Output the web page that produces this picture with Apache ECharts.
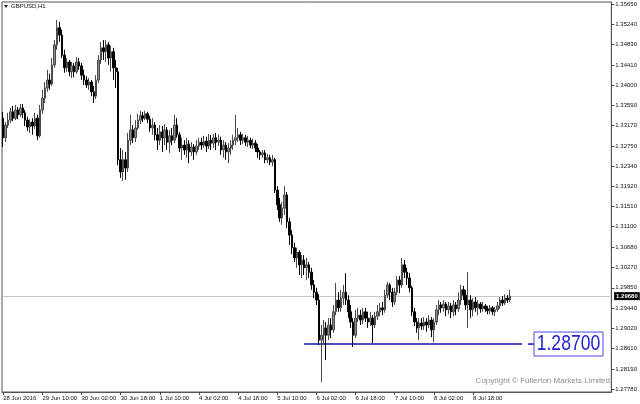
<!DOCTYPE html>
<html><head><meta charset="utf-8">
<script src="https://cdn.jsdelivr.net/npm/echarts@6/dist/echarts.min.js"></script>
<style>html,body{margin:0;padding:0;background:#fff}#c{width:640px;height:404px}</style>
</head><body><div id="c"></div>
<script>
const symbolTitle = 'GBPUSD,H1';
const copyrightText = 'Copyright \u00A9 Fullerton Markets Limited';
// hourly bars: [open, close, low, high]
const ohlc = [
[1.3332,1.3292,1.3273,1.3345],[1.3292,1.3318,1.3283,1.3324],[1.3318,1.3328,1.3312,1.3343],[1.3328,1.3345,1.3322,1.3353],
[1.3345,1.3332,1.3326,1.3357],[1.3332,1.3349,1.3328,1.3359],[1.3349,1.3339,1.3330,1.3355],[1.3339,1.3353,1.3335,1.3361],
[1.3353,1.3343,1.3332,1.3361],[1.3343,1.3328,1.3316,1.3349],[1.3328,1.3314,1.3306,1.3335],[1.3314,1.3324,1.3302,1.3330],
[1.3324,1.3316,1.3298,1.3332],[1.3316,1.3332,1.3310,1.3343],[1.3332,1.3296,1.3287,1.3339],[1.3296,1.3349,1.3292,1.3359],
[1.3349,1.3373,1.3341,1.3390],[1.3373,1.3394,1.3363,1.3406],[1.3394,1.3410,1.3386,1.3431],[1.3410,1.3402,1.3390,1.3423],
[1.3402,1.3441,1.3398,1.3455],[1.3441,1.3482,1.3435,1.3492],[1.3482,1.3517,1.3472,1.3533],[1.3517,1.3502,1.3488,1.3529],
[1.3502,1.3461,1.3455,1.3513],[1.3461,1.3435,1.3425,1.3472],[1.3435,1.3447,1.3427,1.3455],[1.3447,1.3427,1.3418,1.3451],
[1.3427,1.3439,1.3414,1.3447],[1.3439,1.3427,1.3416,1.3445],[1.3427,1.3447,1.3423,1.3457],[1.3447,1.3439,1.3431,1.3455],
[1.3439,1.3420,1.3410,1.3445],[1.3420,1.3410,1.3400,1.3431],[1.3410,1.3400,1.3394,1.3418],[1.3400,1.3406,1.3390,1.3414],
[1.3406,1.3386,1.3377,1.3410],[1.3386,1.3377,1.3363,1.3398],[1.3377,1.3410,1.3371,1.3420],[1.3410,1.3451,1.3404,1.3461],
[1.3451,1.3476,1.3443,1.3488],[1.3476,1.3468,1.3451,1.3492],[1.3468,1.3482,1.3447,1.3492],[1.3482,1.3455,1.3441,1.3488],
[1.3455,1.3468,1.3427,1.3480],[1.3468,1.3435,1.3410,1.3476],[1.3435,1.3427,1.3394,1.3451],[1.3427,1.3247,1.3236,1.3435],
[1.3247,1.3222,1.3210,1.3271],[1.3222,1.3247,1.3204,1.3267],[1.3247,1.3230,1.3206,1.3263],[1.3230,1.3287,1.3222,1.3302],
[1.3287,1.3308,1.3277,1.3339],[1.3308,1.3292,1.3281,1.3318],[1.3292,1.3312,1.3283,1.3328],[1.3312,1.3328,1.3308,1.3341],
[1.3328,1.3337,1.3320,1.3347],[1.3337,1.3332,1.3324,1.3345],[1.3332,1.3341,1.3328,1.3347],[1.3341,1.3330,1.3322,1.3345],
[1.3330,1.3312,1.3304,1.3337],[1.3312,1.3318,1.3298,1.3332],[1.3318,1.3298,1.3287,1.3324],[1.3298,1.3287,1.3267,1.3312],
[1.3287,1.3304,1.3277,1.3318],[1.3304,1.3292,1.3263,1.3316],[1.3292,1.3308,1.3277,1.3320],[1.3308,1.3283,1.3267,1.3314],
[1.3283,1.3296,1.3261,1.3308],[1.3296,1.3287,1.3277,1.3312],[1.3287,1.3318,1.3281,1.3339],[1.3318,1.3298,1.3292,1.3332],
[1.3298,1.3271,1.3263,1.3304],[1.3271,1.3277,1.3247,1.3292],[1.3277,1.3267,1.3257,1.3287],[1.3267,1.3279,1.3251,1.3292],
[1.3279,1.3263,1.3240,1.3287],[1.3263,1.3273,1.3255,1.3283],[1.3273,1.3263,1.3247,1.3279],[1.3263,1.3275,1.3257,1.3287],
[1.3275,1.3283,1.3267,1.3292],[1.3283,1.3277,1.3267,1.3292],[1.3277,1.3285,1.3271,1.3296],[1.3285,1.3275,1.3263,1.3294],
[1.3275,1.3287,1.3269,1.3300],[1.3287,1.3281,1.3267,1.3298],[1.3281,1.3292,1.3271,1.3300],[1.3292,1.3283,1.3267,1.3302],
[1.3283,1.3287,1.3275,1.3298],[1.3287,1.3267,1.3257,1.3294],[1.3267,1.3277,1.3251,1.3287],[1.3277,1.3263,1.3247,1.3283],
[1.3263,1.3271,1.3240,1.3281],[1.3271,1.3277,1.3257,1.3287],[1.3277,1.3287,1.3267,1.3298],[1.3287,1.3292,1.3277,1.3339],
[1.3292,1.3298,1.3283,1.3312],[1.3298,1.3287,1.3277,1.3304],[1.3287,1.3292,1.3279,1.3300],[1.3292,1.3283,1.3275,1.3298],
[1.3283,1.3287,1.3273,1.3296],[1.3287,1.3277,1.3271,1.3292],[1.3277,1.3281,1.3269,1.3290],[1.3281,1.3271,1.3263,1.3287],
[1.3271,1.3263,1.3251,1.3279],[1.3263,1.3257,1.3247,1.3267],[1.3257,1.3261,1.3251,1.3267],[1.3261,1.3247,1.3240,1.3267],
[1.3247,1.3251,1.3240,1.3259],[1.3251,1.3242,1.3236,1.3257],[1.3242,1.3247,1.3234,1.3257],[1.3247,1.3185,1.3179,1.3251],
[1.3185,1.3155,1.3144,1.3193],[1.3155,1.3128,1.3120,1.3169],[1.3128,1.3148,1.3114,1.3161],[1.3148,1.3175,1.3134,1.3193],
[1.3175,1.3120,1.3107,1.3181],[1.3120,1.3093,1.3073,1.3128],[1.3093,1.3067,1.3054,1.3103],[1.3067,1.3046,1.3038,1.3077],
[1.3046,1.3058,1.3026,1.3067],[1.3058,1.3032,1.3011,1.3062],[1.3032,1.3042,1.3005,1.3052],[1.3042,1.3026,1.3011,1.3052],
[1.3026,1.3032,1.3001,1.3046],[1.3032,1.3017,1.3005,1.3038],[1.3017,1.2991,1.2981,1.3026],[1.2991,1.2976,1.2964,1.3001],
[1.2976,1.2960,1.2950,1.2985],[1.2960,1.2878,1.2868,1.2972],[1.2878,1.2888,1.2792,1.2909],[1.2888,1.2903,1.2868,1.2919],
[1.2903,1.2888,1.2837,1.2915],[1.2888,1.2909,1.2878,1.2923],[1.2909,1.2899,1.2882,1.2923],[1.2899,1.2936,1.2893,1.2950],
[1.2936,1.2960,1.2929,1.2995],[1.2960,1.2944,1.2936,1.2976],[1.2944,1.2964,1.2936,1.2981],[1.2964,1.2976,1.2950,1.2991],
[1.2976,1.2960,1.2950,1.3015],[1.2960,1.2936,1.2923,1.2970],[1.2936,1.2915,1.2903,1.2950],[1.2915,1.2888,1.2864,1.2923],
[1.2888,1.2923,1.2882,1.2940],[1.2923,1.2929,1.2915,1.2944],[1.2929,1.2919,1.2909,1.2940],[1.2919,1.2936,1.2911,1.2944],
[1.2936,1.2923,1.2915,1.2944],[1.2923,1.2915,1.2903,1.2936],[1.2915,1.2923,1.2907,1.2936],[1.2923,1.2909,1.2872,1.2929],
[1.2909,1.2927,1.2903,1.2936],[1.2927,1.2936,1.2919,1.2950],[1.2936,1.2944,1.2927,1.2954],[1.2944,1.2940,1.2929,1.2956],
[1.2940,1.2970,1.2934,1.2981],[1.2970,1.2991,1.2964,1.2997],[1.2991,1.2976,1.2960,1.2995],[1.2976,1.2956,1.2946,1.2985],
[1.2956,1.2976,1.2950,1.2985],[1.2976,1.3001,1.2970,1.3009],[1.3001,1.2991,1.2974,1.3009],[1.2991,1.3032,1.2985,1.3046],
[1.3032,1.3017,1.3005,1.3042],[1.3017,1.3005,1.2991,1.3026],[1.3005,1.2985,1.2976,1.3015],[1.2985,1.2936,1.2927,1.2989],
[1.2936,1.2915,1.2907,1.2944],[1.2915,1.2903,1.2893,1.2923],[1.2903,1.2913,1.2878,1.2923],[1.2913,1.2907,1.2899,1.2923],
[1.2907,1.2915,1.2899,1.2925],[1.2915,1.2909,1.2895,1.2923],[1.2909,1.2919,1.2903,1.2929],[1.2919,1.2899,1.2884,1.2925],
[1.2899,1.2915,1.2874,1.2923],[1.2915,1.2940,1.2909,1.2950],[1.2940,1.2950,1.2929,1.2960],[1.2950,1.2944,1.2934,1.2956],
[1.2944,1.2952,1.2936,1.2960],[1.2952,1.2940,1.2927,1.2956],[1.2940,1.2948,1.2931,1.2956],[1.2948,1.2936,1.2923,1.2954],
[1.2936,1.2950,1.2927,1.2960],[1.2950,1.2942,1.2929,1.2956],[1.2942,1.2960,1.2936,1.2976],[1.2960,1.2981,1.2950,1.2991],
[1.2981,1.2970,1.2960,1.2989],[1.2970,1.2950,1.2940,1.2981],[1.2950,1.2960,1.2903,1.3017],[1.2960,1.2940,1.2923,1.2970],
[1.2940,1.2956,1.2927,1.2964],[1.2956,1.2944,1.2936,1.2966],[1.2944,1.2952,1.2929,1.2960],[1.2952,1.2942,1.2934,1.2956],
[1.2942,1.2948,1.2936,1.2956],[1.2948,1.2942,1.2936,1.2952],[1.2942,1.2938,1.2931,1.2948],[1.2938,1.2944,1.2931,1.2950],
[1.2944,1.2936,1.2929,1.2948],[1.2936,1.2940,1.2927,1.2946],[1.2940,1.2948,1.2936,1.2956],[1.2948,1.2960,1.2942,1.2966],
[1.2960,1.2954,1.2948,1.2968],[1.2954,1.2964,1.2950,1.2972],[1.2964,1.2960,1.2954,1.2970],[1.2960,1.2968,1.2956,1.2981]
];
const yTickLabels = ['1.35650','1.35240','1.34830','1.34410','1.34000','1.33590','1.33170','1.32750','1.32340','1.31920',
  '1.31510','1.31100','1.30680','1.30270','1.29850','1.29440','1.29020','1.28610','1.28190','1.27780'];
const xTickLabels = ['28 Jun 2016','29 Jun 10:00','30 Jun 02:00','30 Jun 18:00','1 Jul 10:00','4 Jul 02:00','4 Jul 18:00',
  '5 Jul 10:00','6 Jul 02:00','6 Jul 18:00','7 Jul 10:00','8 Jul 02:00','8 Jul 18:00'];
const currentPrice = 1.29680;
const levelPrice = 1.28700;
const levelLabel = '1.28700';
const levelStartBar = 123;
const levelEndBar = 212;
const yMin = 1.27719, yMax = 1.35697;
const totalSlots = 249;
const labelEvery = 16;

const months = ['Jan','Feb','Mar','Apr','May','Jun','Jul','Aug','Sep','Oct','Nov','Dec'];
const categories = [];
let t = Date.UTC(2016, 5, 28, 18);
while (categories.length < totalSlots) {
  const d = new Date(t), wd = d.getUTCDay();
  if (wd !== 0 && wd !== 6) categories.push(d.getUTCDate() + ' ' + months[d.getUTCMonth()] + ' ' + String(d.getUTCHours()).padStart(2, '0') + ':00');
  t += 3600000;
}
const yTickValues = yTickLabels.map(Number);
const showX = (i) => i % labelEvery === 0 && (i / labelEvery) < xTickLabels.length;
const FONT = 'Liberation Sans';

const chart = echarts.init(document.getElementById('c'), null, {renderer: 'canvas'});
chart.setOption({
  animation: false,
  backgroundColor: '#fff',
  grid: {left: 2, right: 27, top: 2, bottom: 12, show: true, borderColor: '#555', borderWidth: 1, backgroundColor: '#fff'},
  xAxis: {
    type: 'category', data: categories, boundaryGap: true,
    axisLine: {show: true, lineStyle: {color: '#555', width: 1}},
    axisTick: {show: true, alignWithLabel: true, interval: showX, length: 3, lineStyle: {color: '#444'}},
    axisLabel: {show: true, interval: showX, align: 'left', margin: 3, fontSize: 6, color: '#111', fontFamily: FONT,
      formatter: (v, i) => xTickLabels[i / labelEvery] || ''},
    splitLine: {show: false}
  },
  yAxis: {
    type: 'value', position: 'right', min: yMin, max: yMax, scale: true,
    axisLine: {show: true, lineStyle: {color: '#555', width: 1}},
    axisTick: {show: true, length: 3, customValues: yTickValues, lineStyle: {color: '#444'}},
    axisLabel: {show: true, customValues: yTickValues, margin: 4, fontSize: 6, color: '#111', fontFamily: FONT,
      formatter: v => v.toFixed(5)},
    splitLine: {show: false}
  },
  series: [{
    type: 'candlestick', data: ohlc, barWidth: 2,
    itemStyle: {color: '#8a8a8a', color0: '#000', borderColor: '#4a4a4a', borderColor0: '#000', borderWidth: 1},
    markLine: {
      silent: true, symbol: ['none', 'none'], animation: false, z: 1,
      data: [
        [{coord: [categories[0], currentPrice], lineStyle: {color: '#c8c8c8', width: 1, type: 'solid'},
          label: {show: true, position: 'end', distance: 4, formatter: currentPrice.toFixed(5), backgroundColor: '#000', color: '#fff',
           fontSize: 6, fontFamily: FONT, fontWeight: 'bold', padding: [1, 2, 1, 2]}},
         {coord: [categories[totalSlots - 1], currentPrice]}],
        [{coord: [categories[levelStartBar], levelPrice], lineStyle: {color: '#1212b0', width: 1.5, type: 'solid'}, label: {show: false}},
         {coord: [categories[levelEndBar], levelPrice]}]
      ]
    }
  }]
});

// level annotation box to the right of the level line
const p = chart.convertToPixel({gridIndex: 0}, [categories[levelEndBar], levelPrice]);
chart.setOption({
  graphic: [
    {type: 'polygon', shape: {points: [[4, 5], [8, 5], [6, 8]]}, style: {fill: '#222'}},
    {type: 'text', x: 11, y: 6, style: {text: symbolTitle, fontSize: 6, fontFamily: FONT, fill: '#111', textVerticalAlign: 'middle'}},
    {type: 'text', right: 30, top: 377, style: {text: copyrightText, fontSize: 8, fontFamily: FONT, fill: '#8c8c8c'}},
    {type: 'line', shape: {x1: p[0] + 6, y1: p[1], x2: p[0] + 12, y2: p[1]}, style: {stroke: '#1212b0', lineWidth: 1.5}},
    {type: 'rect', shape: {x: p[0] + 12, y: p[1] - 12, width: 69, height: 24}, style: {fill: '#fff', stroke: '#4a4ae0', lineWidth: 1}},
    {type: 'text', x: p[0] + 46.5, y: p[1], scaleX: 0.8, style: {text: levelLabel, fontSize: 22, fontFamily: FONT, fill: '#2222d0', textAlign: 'center', textVerticalAlign: 'middle'}}
  ]
});
</script></body></html>
